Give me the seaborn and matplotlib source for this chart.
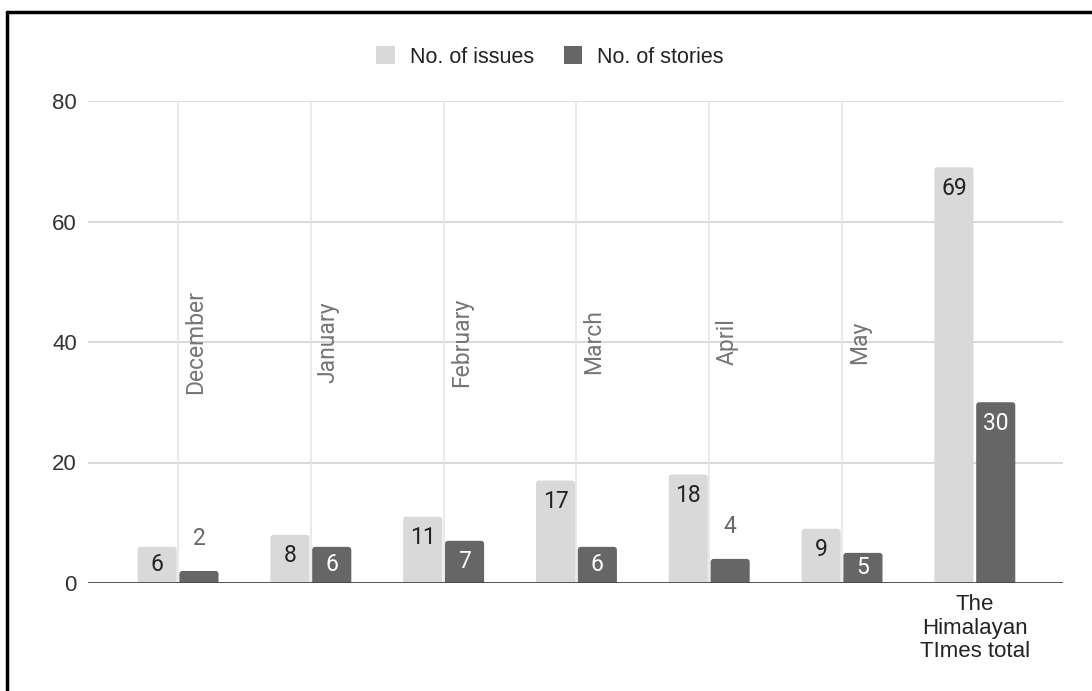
import matplotlib
matplotlib.use("Agg")
import matplotlib.pyplot as plt
from matplotlib.patches import Patch, FancyBboxPatch
from matplotlib.lines import Line2D
import seaborn as sns
import pandas as pd
import textwrap

# ---- data ----
categories = ["December", "January", "February", "March", "April", "May",
              "The Himalayan TImes total"]
issues = [6, 8, 11, 17, 18, 9, 69]
stories = [2, 6, 7, 6, 4, 5, 30]
series_names = ["No. of issues", "No. of stories"]
y_ticks = [0, 20, 40, 60, 80]

ISSUE_COLOR = "#d9d9d9"
STORY_COLOR = "#666666"

df = pd.DataFrame({
    "category": categories * 2,
    "value": issues + stories,
    "series": [series_names[0]] * len(categories) + [series_names[1]] * len(categories),
})

sns.set_theme(style="white")
plt.rcParams["font.family"] = ["Liberation Sans", "DejaVu Sans"]

DPI = 100
fig = plt.figure(figsize=(10.92, 6.91), dpi=DPI)
ax = fig.add_axes([88 / 1092, 1 - 583 / 691, (1063 - 88) / 1092, (583 - 101) / 691])

sns.barplot(data=df, x="category", y="value", hue="series", order=categories,
            hue_order=series_names, palette=[ISSUE_COLOR, STORY_COLOR],
            width=0.63, gap=0.065, ax=ax, legend=False, zorder=3)

ax.set_xlim(-0.678, 6.664)
ax.set_ylim(0, 80)

# pixel scale for rounding the bar tops
x_px = (1063 - 88) / (6.664 + 0.678)
y_px = (583 - 101) / 80.0
radius_px = 3.0
bars = list(ax.patches)
for p in bars:
    x0, w, h = p.get_x(), p.get_width(), p.get_height()
    fc = p.get_facecolor()
    p.remove()
    ext = radius_px / y_px
    rp = FancyBboxPatch((x0, -ext), w, h + ext,
                        boxstyle=f"round,pad=0,rounding_size={radius_px / x_px}",
                        mutation_aspect=x_px / y_px,
                        facecolor=fc, edgecolor="none", zorder=3)
    ax.add_patch(rp)

# grid lines
for t in y_ticks[1:]:
    ax.axhline(t, color="#d3d3d3", lw=1.2, zorder=1)
ax.axhline(0, color="#444444", lw=2.0, zorder=4)
for i in range(len(categories) - 1):
    ax.plot([i, i], [0, 80], color="#e6e6e6", lw=1.2, zorder=1)

for s in ax.spines.values():
    s.set_visible(False)

ax.set_yticks(y_ticks)
ax.set_yticklabels([str(t) for t in y_ticks], fontsize=16, color="#333333")
ax.tick_params(axis="y", length=0, pad=8)

tick_labels = [""] * (len(categories) - 1) + [textwrap.fill(categories[-1], 11)]
ax.set_xticks(range(len(categories)))
ax.set_xticklabels(tick_labels, fontsize=16, color="#222222", linespacing=1.15)
ax.tick_params(axis="x", length=0, pad=8)
ax.set_xlabel("")
ax.set_ylabel("")

# month names written vertically inside the plot area
for i, name in enumerate(categories[:-1]):
    ax.text(i + 0.132, 40, name, rotation=90, ha="center", va="center",
            fontsize=16.5, color="#757575", family=["Roboto", "DejaVu Sans"], zorder=2)

# value labels
slot = 0.63 / 2
px_to_pt = 72.0 / DPI
for j, (vals, inside_color) in enumerate([(issues, "#222222"), (stories, "#ffffff")]):
    off = -slot / 2 if j == 0 else slot / 2
    for i, v in enumerate(vals):
        h_px = v * y_px
        if h_px >= 28:
            dy = -min(21.0, h_px / 2.0)
            color = inside_color
        else:
            dy = 32.0
            color = STORY_COLOR if j == 1 else "#222222"
        ax.annotate(str(v), (i + off, v), xytext=(0, dy * px_to_pt),
                    textcoords="offset points", ha="center", va="center",
                    fontsize=16.5, color=color, family=["Roboto", "DejaVu Sans"],
                    zorder=5)

# legend
handles = [Patch(facecolor=ISSUE_COLOR, edgecolor="none", label=series_names[0]),
           Patch(facecolor=STORY_COLOR, edgecolor="none", label=series_names[1])]
leg = fig.legend(handles=handles, loc="center", bbox_to_anchor=(550 / 1092, 1 - 57 / 691),
                 ncol=2, frameon=False, fontsize=15.5, handlelength=0.85,
                 handleheight=0.85, handletextpad=0.7, columnspacing=1.4)
for t in leg.get_texts():
    t.set_color("#222222")

# frame lines along the top and left edges
fig.add_artist(Line2D([6.5 / 1092, 6.5 / 1092], [0, 1 - 12 / 691],
                      transform=fig.transFigure, color="black", lw=2.5))
fig.add_artist(Line2D([6.5 / 1092, 1], [1 - 12 / 691, 1 - 12 / 691],
                      transform=fig.transFigure, color="black", lw=2.5))

fig.savefig("out.png", dpi=DPI, facecolor="white")
